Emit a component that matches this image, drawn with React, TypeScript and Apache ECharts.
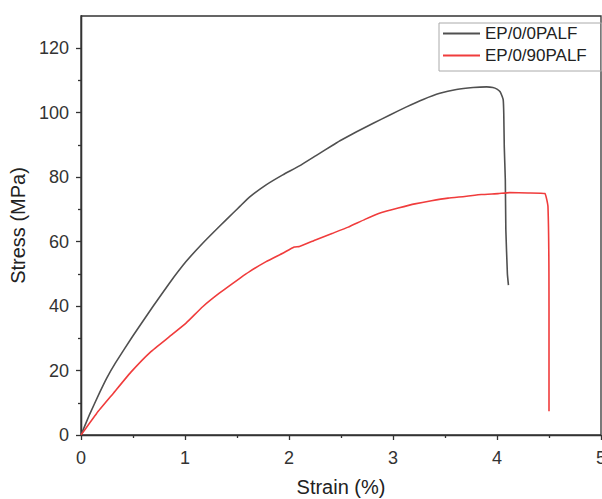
import React, { useEffect, useRef } from "react";
import * as echarts from "echarts";

const seriesNames = ["EP/0/0PALF", "EP/0/90PALF"];

const strain0 = [0, 0.084, 0.18, 0.25, 0.33, 0.5, 0.69, 0.85, 1.01, 1.17, 1.33, 1.46, 1.53, 1.62, 1.78, 1.94, 2.1, 2.26, 2.42, 2.49, 2.65, 2.81, 2.97, 3.13, 3.29, 3.45, 3.61, 3.77, 3.9, 3.96, 4.0, 4.03, 4.05, 4.06, 4.065, 4.07, 4.08, 4.085, 4.1, 4.11];
const stress0 = [0, 6.5, 13.2, 17.8, 22.3, 30.8, 39.8, 47.1, 53.8, 59.5, 64.7, 68.8, 71.0, 73.8, 77.6, 80.7, 83.5, 86.7, 89.9, 91.3, 94.1, 96.7, 99.3, 101.8, 104.1, 106.0, 107.2, 107.8, 108.0, 107.8, 107.3, 106.5, 105.0, 103.9, 99.8, 89.4, 79.1, 63.7, 50.0, 46.5];

const strain90 = [0, 0.15, 0.31, 0.48, 0.67, 0.85, 1.01, 1.17, 1.33, 1.53, 1.62, 1.78, 1.94, 2.05, 2.1, 2.26, 2.42, 2.57, 2.73, 2.89, 3.05, 3.21, 3.37, 3.53, 3.69, 3.85, 4.01, 4.12, 4.3, 4.46, 4.49, 4.5, 4.5];
const stress90 = [0, 6.7, 12.9, 19.5, 25.8, 30.5, 34.7, 39.8, 44.0, 48.7, 50.7, 53.8, 56.4, 58.3, 58.5, 60.6, 62.6, 64.5, 66.9, 69.0, 70.4, 71.7, 72.7, 73.5, 74.0, 74.6, 74.9, 75.2, 75.1, 74.9, 70.9, 40.0, 7.4];

const xTicks = [0, 1, 2, 3, 4, 5];
const yMajorTicks = [0, 20, 40, 60, 80, 100, 120];
const yMinorTicks = [10, 30, 50, 70, 90, 110];

const axisColor = "#333333";
const colors = ["#505050", "#f03c3c"];
const font = "'Liberation Sans', Arial, sans-serif";

export default function App() {
  const ref = useRef<HTMLDivElement>(null);
  useEffect(() => {
    if (!ref.current) return;
    const chart = echarts.init(ref.current, undefined, { renderer: "svg" });
    const zip = (xs: number[], ys: number[]) => xs.map((x, i) => [x, ys[i]]);
    chart.setOption({
      animation: false,
      textStyle: { fontFamily: font },
      grid: {
        left: 81,
        right: 1,
        top: 16,
        bottom: 64,
        show: true,
        borderColor: axisColor,
        borderWidth: 1.3,
        backgroundColor: "transparent",
        containLabel: false,
        outerBoundsMode: "none",
      },
      legend: {
        orient: "vertical",
        left: 439,
        top: 23,
        padding: [2, 15, 7, 4],
        itemWidth: 37,
        itemHeight: 2,
        itemGap: 5,
        icon: "rect",
        borderColor: "#aaaaaa",
        borderWidth: 1,
        textStyle: { fontSize: 17, color: "#222", fontFamily: font },
        data: seriesNames,
      },
      xAxis: {
        type: "value",
        min: xTicks[0],
        max: xTicks[xTicks.length - 1],
        interval: 1,
        name: "Strain (%)",
        nameLocation: "middle",
        nameGap: 42,
        nameTextStyle: { fontSize: 20, color: "#222", fontFamily: font },
        axisLine: { lineStyle: { color: axisColor, width: 1.3 } },
        axisTick: { inside: false, length: 5, lineStyle: { color: axisColor, width: 1.3 } },
        minorTick: { show: true, splitNumber: 2, length: 3, lineStyle: { color: axisColor, width: 1.3 } },
        axisLabel: { fontSize: 18, color: "#333", margin: 14, fontFamily: font },
        splitLine: { show: false },
        minorSplitLine: { show: false },
      },
      yAxis: [
        {
          type: "value",
          min: 0,
          max: 130,
          interval: 20,
          name: "Stress (MPa)",
          nameLocation: "middle",
          nameGap: 44,
          nameTextStyle: { fontSize: 20, color: "#222", fontFamily: font },
          axisLine: { show: true, lineStyle: { color: axisColor, width: 1.3 } },
          axisTick: { show: true, length: 5, customValues: yMajorTicks, lineStyle: { color: axisColor, width: 1.3 } },
          axisLabel: { fontSize: 18, color: "#333", margin: 12, customValues: yMajorTicks, fontFamily: font },
          splitLine: { show: false },
        },
        {
          type: "value",
          min: 0,
          max: 130,
          interval: 10,
          position: "left",
          axisLine: { show: true, lineStyle: { color: axisColor, width: 1.3 } },
          axisTick: { show: true, length: 3, customValues: yMinorTicks, lineStyle: { color: axisColor, width: 1.3 } },
          axisLabel: { show: false },
          splitLine: { show: false },
        },
      ],
      series: [
        {
          name: seriesNames[0],
          type: "line",
          data: zip(strain0, stress0),
          showSymbol: false,
          symbol: "none",
          smooth: 0.12,
          color: colors[0],
          lineStyle: { color: colors[0], width: 1.6 },
        },
        {
          name: seriesNames[1],
          type: "line",
          data: zip(strain90, stress90),
          showSymbol: false,
          symbol: "none",
          smooth: 0.12,
          color: colors[1],
          lineStyle: { color: colors[1], width: 1.6 },
        },
      ],
    });
    return () => chart.dispose();
  }, []);
  return (
    <div
      ref={ref}
      style={{ position: "absolute", left: 0, top: 0, width: 602, height: 499, background: "#fff" }}
    />
  );
}
